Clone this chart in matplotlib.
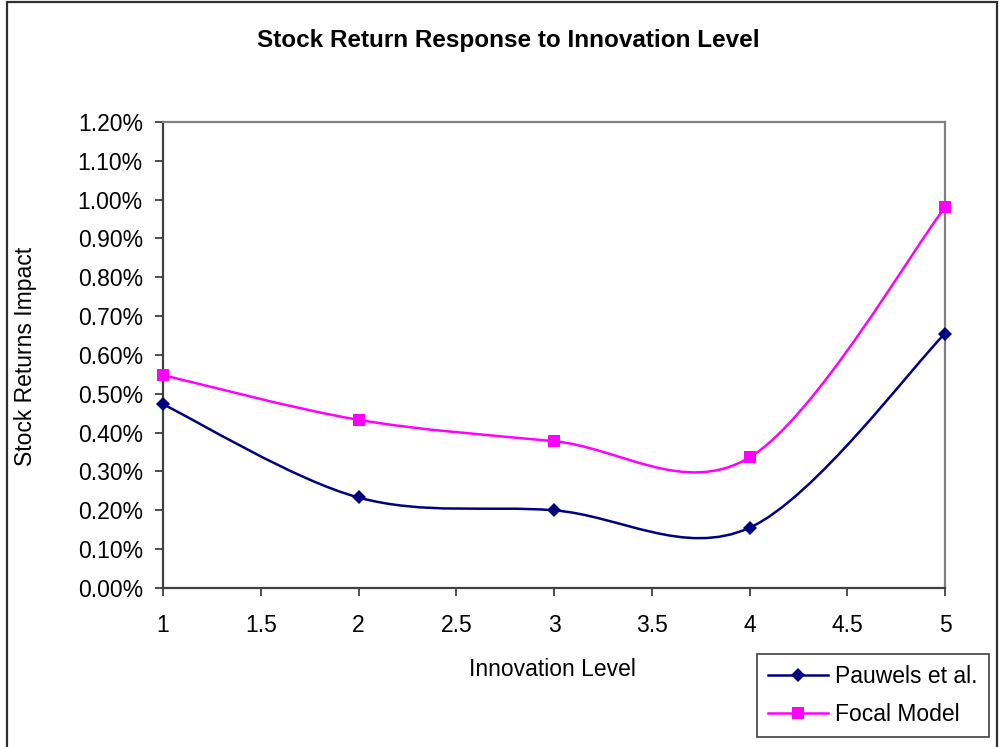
import matplotlib
matplotlib.use("Agg")
import matplotlib.pyplot as plt
import numpy as np
from matplotlib.path import Path
from matplotlib.patches import PathPatch, Rectangle
from matplotlib.lines import Line2D
from matplotlib.ticker import FixedLocator, FuncFormatter

plt.rcParams['font.family'] = ['Liberation Sans', 'DejaVu Sans']

# Data (stock return impact in percent)
innovation_level = [1, 2, 3, 4, 5]
pauwels = [0.473, 0.233, 0.200, 0.155, 0.655]
focal = [0.548, 0.433, 0.378, 0.336, 0.980]
series_names = ["Pauwels et al.", "Focal Model"]
y_ticks = [0.0, 0.1, 0.2, 0.3, 0.4, 0.5, 0.6, 0.7, 0.8, 0.9, 1.0, 1.1, 1.2]
x_ticks = [1, 1.5, 2, 2.5, 3, 3.5, 4, 4.5, 5]

NAVY = "#000080"
MAGENTA = "#FF00FF"
FS = 16.5
LW = 1.8
D_SIZE = 7.4
S_SIZE = 9.0


def smooth_path(xs, ys):
    """Cubic Bezier path through the points (Catmull-Rom style smoothing)."""
    pts = np.column_stack([xs, ys]).astype(float)
    n = len(pts)
    verts = [pts[0]]
    codes = [Path.MOVETO]
    for i in range(n - 1):
        p0 = pts[i - 1] if i > 0 else pts[i]
        p1 = pts[i]
        p2 = pts[i + 1]
        p3 = pts[i + 2] if i + 2 < n else pts[i + 1]
        c1 = p1 + (p2 - p0) / 6.0
        c2 = p2 - (p3 - p1) / 6.0
        verts += [c1, c2, p2]
        codes += [Path.CURVE4] * 3
    return Path(verts, codes)


fig = plt.figure(figsize=(10, 7.47), dpi=100)
ax = fig.add_axes([0.163, 0.2129, 0.782, 0.6238])

ax.set_xlim(1, 5)
ax.set_ylim(0, 1.2)

for ys, color in [(pauwels, NAVY), (focal, MAGENTA)]:
    ax.add_patch(PathPatch(smooth_path(innovation_level, ys), fill=False,
                           edgecolor=color, linewidth=LW, zorder=3,
                           clip_on=False))

ax.plot(innovation_level, pauwels, linestyle='none', marker='D',
        markersize=D_SIZE, color=NAVY, markeredgewidth=0, zorder=4,
        clip_on=False)
ax.plot(innovation_level, focal, linestyle='none', marker='s',
        markersize=S_SIZE, color=MAGENTA, markeredgewidth=0, zorder=4,
        clip_on=False)

ax.yaxis.set_major_locator(FixedLocator(y_ticks))
ax.yaxis.set_major_formatter(FuncFormatter(lambda v, p: f"{v:.2f}%"))
ax.xaxis.set_major_locator(FixedLocator(x_ticks))
ax.xaxis.set_major_formatter(FuncFormatter(lambda v, p: f"{v:g}"))

ax.tick_params(axis='both', direction='out', length=5.5, width=1.3,
               color='#404040', labelsize=FS, labelcolor='black')
ax.tick_params(axis='y', pad=9)
ax.tick_params(axis='x', pad=13)

for side in ['left', 'bottom']:
    ax.spines[side].set_color('#404040')
    ax.spines[side].set_linewidth(1.6)
for side in ['top', 'right']:
    ax.spines[side].set_color('#808080')
    ax.spines[side].set_linewidth(1.6)

fig.text(0.508, 1 - 47 / 747, "Stock Return Response to Innovation Level",
         ha='center', va='baseline', fontsize=17.5, fontweight='bold')
fig.text(0.552, 1 - 676 / 747, "Innovation Level", ha='center',
         va='baseline', fontsize=FS)
fig.text(0.026, 1 - 356 / 747, "Stock Returns Impact", ha='center',
         va='center', rotation=90, fontsize=FS)

handles = [
    Line2D([], [], color=NAVY, linewidth=LW, marker='D', markersize=D_SIZE,
           markeredgewidth=0),
    Line2D([], [], color=MAGENTA, linewidth=LW, marker='s', markersize=S_SIZE,
           markeredgewidth=0),
]
leg = fig.legend(handles, series_names, loc='upper left',
                 bbox_to_anchor=(0.757, 1 - 654 / 747),
                 bbox_transform=fig.transFigure, borderaxespad=0,
                 fontsize=FS, fancybox=False, shadow=False, framealpha=1,
                 edgecolor='#404040', handlelength=2.6, handletextpad=0.3,
                 labelspacing=0.62, borderpad=0.5, numpoints=1)
leg.get_frame().set_linewidth(1.2)

# Outer chart border
fig.patches.append(Rectangle((0.007, -0.05), 0.99, 0.05 + 1 - 2 / 747,
                             transform=fig.transFigure, fill=False,
                             edgecolor='#303030', linewidth=1.6))

fig.savefig("out.png", dpi=100)
